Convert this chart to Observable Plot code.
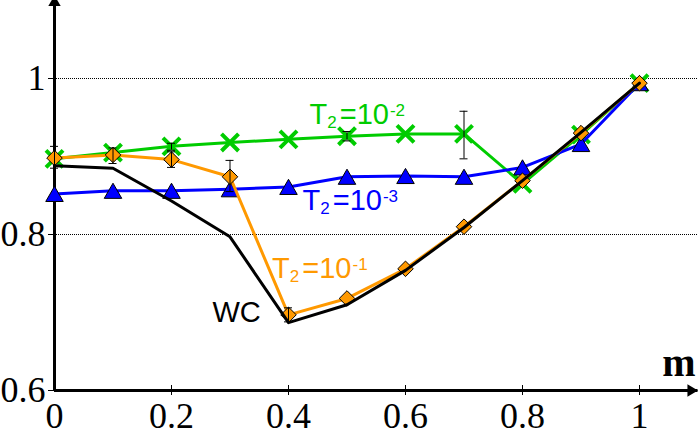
<!DOCTYPE html>
<html>
<head>
<meta charset="utf-8">
<script src="https://cdn.jsdelivr.net/npm/d3@7"></script>
<script src="https://cdn.jsdelivr.net/npm/@observablehq/plot@0.6"></script>
<style>
  body { margin: 0; background: #fff; }
  #chart svg { display: block; }
</style>
</head>
<body>
<div id="chart"></div>
<script>
// ---- data ----
const m = [0, 0.1, 0.2, 0.3, 0.4, 0.5, 0.6, 0.7, 0.8, 0.9, 1];
const wc   = [0.888, 0.885, 0.843, 0.797, 0.687, 0.710, 0.754, 0.809, 0.869, 0.931, 0.994];
const t2e1 = [0.898, 0.902, 0.896, 0.874, 0.697, 0.718, 0.756, 0.810, 0.869, 0.930, 0.994]; // T2=10^-1
const t2e2 = [0.897, 0.905, 0.913, 0.918, 0.922, 0.926, 0.929, 0.929, 0.865, 0.928, 0.994]; // T2=10^-2
const t2e3 = [0.852, 0.856, 0.856, 0.858, 0.861, 0.874, 0.875, 0.874, 0.886, 0.916, 0.994]; // T2=10^-3

const errE1M  = [0, 0.1, 0.2, 0.3, 0.4];
const errE1Lo = [0.885, 0.891, 0.886, 0.855, 0.688];
const errE1Hi = [0.913, 0.911, 0.906, 0.895, 0.706];
const errE2M  = [0.2, 0.5, 0.7];
const errE2Lo = [0.908, 0.920, 0.897];
const errE2Hi = [0.917, 0.932, 0.958];

const xTicks = [0, 0.2, 0.4, 0.6, 0.8, 1];
const yTicks = [0.6, 0.8, 1];
const gridY = [0.8, 1];
const xMax = 1.1, yMin = 0.6, yMax = 1.1;

const labelNames = ["T2=10-2", "T2=10-3", "T2=10-1", "WC"];
const labelX = [0.436, 0.424, 0.372, 0.270];
const labelY = [0.942, 0.831, 0.7445, 0.688];
const axisName = "m";
const axisNameX = 1.039, axisNameY = 0.619;

// ---- styles ----
const GREEN = "#00cc00", BLUE = "#0000ff", ORANGE = "#ff9900", BLACK = "#000000";
const labelColors = [GREEN, BLUE, ORANGE, BLACK];
const SANS = "Liberation Sans, Arial, sans-serif";
const SERIF = "Liberation Serif, Times New Roman, serif";

const rows = (vals) => m.map((x, i) => ({m: x, v: vals[i]}));
const errRows = (ms, lo, hi) => ms.map((x, i) => ({m: x, lo: lo[i], hi: hi[i]}));
const capRows = (ms, lo, hi) => ms.flatMap((x, i) => [{m: x, v: lo[i]}, {m: x, v: hi[i]}]);
const labels = labelNames.map((t, i) => ({text: t, x: labelX[i], y: labelY[i], c: labelColors[i]}));

const green = rows(t2e2), blue = rows(t2e3), orange = rows(t2e1), black = rows(wc);
const errs = [...errRows(errE1M, errE1Lo, errE1Hi), ...errRows(errE2M, errE2Lo, errE2Hi)];
const caps = [...capRows(errE1M, errE1Lo, errE1Hi), ...capRows(errE2M, errE2Lo, errE2Hi)];

const svg = Plot.plot({
  width: 698,
  height: 436,
  marginLeft: 54,
  marginRight: 0.5,
  marginTop: 0,
  marginBottom: 46,
  x: {domain: [0, xMax]},
  y: {domain: [yMin, yMax]},
  color: {type: "identity"},
  style: {background: "#fff", overflow: "visible", fontFamily: SERIF, fontSize: "36px"},
  marks: [
    // grid
    Plot.ruleY(gridY, {stroke: BLACK, strokeWidth: 1, strokeDasharray: "1,1"}),
    // axis lines
    Plot.ruleX([0], {y1: yMin, y2: yMax, stroke: BLACK, strokeWidth: 3}),
    Plot.ruleY([yMin], {x1: 0, x2: xMax, stroke: BLACK, strokeWidth: 3}),
    Plot.dot([{x: 0, y: yMax}], {x: "x", y: "y", symbol: "triangle", r: 4.6, fill: BLACK, dy: 2}),
    Plot.dot([{x: xMax, y: yMin}], {x: "x", y: "y", symbol: "triangle", r: 4.6, rotate: 90, fill: BLACK, dx: -7}),
    // x ticks crossing the axis
    Plot.ruleX(xTicks.slice(1), {x: d => d, y1: yMin, y2: yMin, insetTop: -5, insetBottom: -5, stroke: BLACK, strokeWidth: 1}),
    Plot.axisX({ticks: xTicks, tickSize: 0, tickPadding: 12, tickFormat: d => String(d),
      fontSize: 36, fontFamily: SERIF, label: null}),
    Plot.axisY({ticks: yTicks, tickSize: 6, tickPadding: 3, tickFormat: d => String(d),
      fontSize: 36, fontFamily: SERIF, label: null}),

    // T2 = 10^-2 (green)
    Plot.line(green, {x: "m", y: "v", stroke: GREEN, strokeWidth: 3}),
    Plot.dot(green, {x: "m", y: "v", symbol: "times", r: 7.8, stroke: GREEN, strokeWidth: 4}),
    // T2 = 10^-3 (blue)
    Plot.line(blue, {x: "m", y: "v", stroke: BLUE, strokeWidth: 3}),
    Plot.dot(blue, {x: "m", y: "v", symbol: "triangle", r: 6.5, fill: BLUE, stroke: BLACK, strokeWidth: 1, dy: 2.5}),
    // T2 = 10^-1 (orange)
    Plot.line(orange, {x: "m", y: "v", stroke: ORANGE, strokeWidth: 3}),
    Plot.dot(orange, {x: "m", y: "v", symbol: "diamond2", r: 7, fill: ORANGE, stroke: BLACK, strokeWidth: 1}),
    // WC (black)
    Plot.line(black, {x: "m", y: "v", stroke: BLACK, strokeWidth: 3}),

    // error bars
    Plot.ruleX(errs, {x: "m", y1: "lo", y2: "hi", stroke: BLACK, strokeWidth: 1}),
    Plot.ruleY(caps, {y: "v", x1: "m", x2: "m", insetLeft: -4, insetRight: -4, stroke: BLACK, strokeWidth: 1}),

    // labels
    Plot.text(labels, {x: "x", y: "y", text: "text", fill: "c", textAnchor: "start", lineAnchor: "bottom",
      fontSize: 29, fontFamily: SANS}),
    Plot.text([{x: axisNameX, y: axisNameY, t: axisName}], {x: "x", y: "y", text: "t", textAnchor: "start",
      lineAnchor: "bottom", fontSize: 40, fontWeight: "bold", fontFamily: SERIF})
  ]
});

// make sure the tick labels use the serif face
svg.querySelectorAll('g[aria-label="x-axis tick label"], g[aria-label="y-axis tick label"]').forEach(g => {
  g.setAttribute("font-family", SERIF);
  g.setAttribute("font-size", 36);
});

// subscript / superscript formatting for the "T2=10-k" labels
const NS = "http://www.w3.org/2000/svg";
svg.querySelectorAll("text").forEach(t => {
  const mt = /^T(\d)=10(-\d)$/.exec(t.textContent);
  if (!mt) return;
  t.textContent = "";
  const parts = [
    {s: "T"},
    {s: mt[1], fs: 17, dy: 4},
    {s: "=10", dy: -4, dx: 3},
    {s: mt[2], fs: 17, dy: -8, dx: 1}
  ];
  parts.forEach(p => {
    const ts = document.createElementNS(NS, "tspan");
    ts.textContent = p.s;
    if (p.fs) ts.setAttribute("font-size", p.fs);
    if (p.dy) ts.setAttribute("dy", p.dy);
    if (p.dx) ts.setAttribute("dx", p.dx);
    t.appendChild(ts);
  });
});

document.getElementById("chart").appendChild(svg);
</script>
</body>
</html>
